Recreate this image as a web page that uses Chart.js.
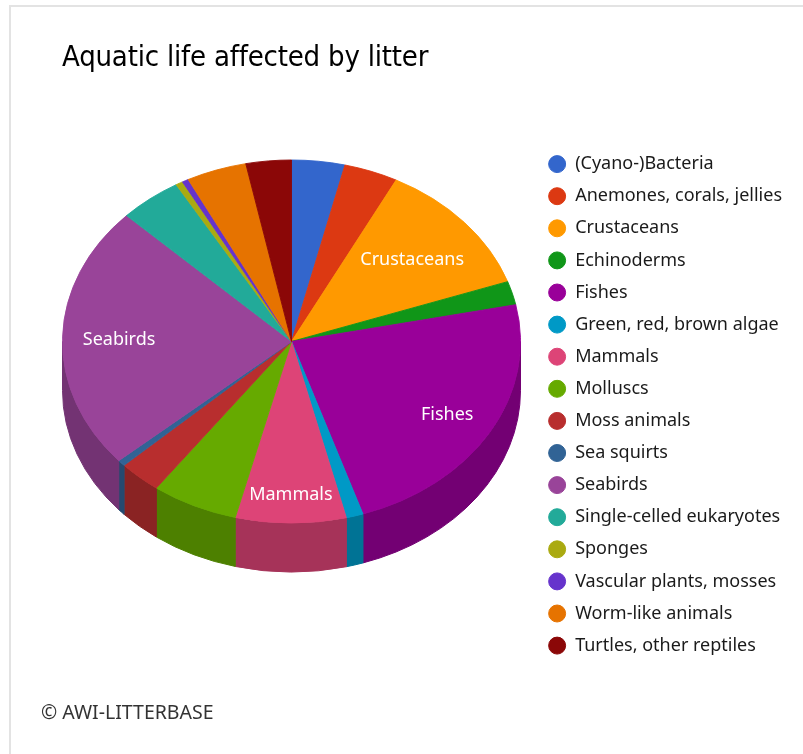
<!DOCTYPE html>
<html lang="en">
<head>
    <meta charset="UTF-8">
    <title>Aquatic life affected by litter</title>
    <script src="https://cdn.jsdelivr.net/npm/chart.js"></script>
    <style>

body {
    margin: 0;
    background: #fff;
    font-family: 'Noto Sans', sans-serif;
}

.wrap {
    position: relative;
    width: 803px;
    height: 754px;
    overflow: hidden;
}

.frame {
    position: absolute;
    left: 9px;
    top: 5px;
    width: 900px;
    height: 900px;
    border-left: 2px solid #e3e3e3;
    border-top: 2px solid #e3e3e3;
}

h1 {
    position: absolute;
    left: 62px;
    top: 42px;
    margin: 0;
    font: 500 29px/1 'Liberation Sans Narrow', 'DejaVu Sans Condensed', sans-serif;
    color: #000;
    white-space: nowrap;
    letter-spacing: -0.2px;
}

.credit {
    position: absolute;
    left: 41px;
    top: 702px;
    font-size: 19.5px;
    line-height: 1;
    color: #333;
}

canvas {
    position: absolute;
    left: 0;
    top: 0;
}

    </style>
</head>
<body>
    <div class="wrap">
        <div class="frame"></div>
        <canvas id="pieChart" width="803" height="754"></canvas>
        <h1>Aquatic life affected by litter</h1>
        <div class="credit">© AWI-LITTERBASE</div>
    </div>
    <script>
        // groups, share of the pie (%) and slice colours
        const groups = [
            '(Cyano-)Bacteria', 'Anemones, corals, jellies', 'Crustaceans', 'Echinoderms',
            'Fishes', 'Green, red, brown algae', 'Mammals', 'Molluscs',
            'Moss animals', 'Sea squirts', 'Seabirds', 'Single-celled eukaryotes',
            'Sponges', 'Vascular plants, mosses', 'Worm-like animals', 'Turtles, other reptiles'
        ];
        const shares = [3.75, 3.8, 12.1, 2.1, 23.2, 1.2, 7.8, 6.1, 3.0, 0.55, 23.6, 4.4, 0.5, 0.45, 4.25, 3.2];
        const colors = [
            '#3366cc', '#dc3912', '#ff9900', '#109618', '#990099', '#0099c6', '#dd4477', '#66aa00',
            '#b82e2e', '#316395', '#994499', '#22aa99', '#aaaa11', '#6633cc', '#e67300', '#8b0707'
        ];

        const tilt = 0.7926;      // ellipse height / width
        const depth = 49;         // thickness of the pie rim
        const faceY = 341.5;      // where the top face sits on the page
        const labelMin = 0.07;    // smaller slices get no name inside

        function shade(hex, f) {
            const n = parseInt(hex.slice(1), 16);
            const r = Math.round(((n >> 16) & 255) * f);
            const g = Math.round(((n >> 8) & 255) * f);
            const b = Math.round((n & 255) * f);
            return `rgb(${r}, ${g}, ${b})`;
        }

        // squash the pie into an ellipse and give it a rim
        const pie3d = {
            id: 'pie3d',
            beforeDatasetsDraw(chart) {
                const arcs = chart.getDatasetMeta(0).data;
                const ctx = chart.ctx;
                const cx = arcs[0].x, cy = arcs[0].y;
                const rx = arcs[0].outerRadius, ry = rx * tilt;

                ctx.save();
                arcs.forEach((arc, i) => {
                    const s = Math.max(arc.startAngle, 0);
                    const e = Math.min(arc.endAngle, Math.PI);
                    if (e <= s) return;
                    ctx.beginPath();
                    ctx.ellipse(cx, faceY, rx, ry, 0, s, e);
                    ctx.ellipse(cx, faceY + depth, rx, ry, 0, e, s, true);
                    ctx.closePath();
                    ctx.fillStyle = shade(colors[i], 0.75);
                    ctx.strokeStyle = ctx.fillStyle;
                    ctx.lineWidth = 1;
                    ctx.fill();
                    ctx.stroke();
                });
                ctx.restore();

                ctx.save();
                ctx.translate(cx, faceY);
                ctx.scale(1, tilt);
                ctx.translate(-cx, -cy);
            },
            afterDatasetsDraw(chart) {
                const ctx = chart.ctx;
                ctx.restore();

                const arcs = chart.getDatasetMeta(0).data;
                const cx = arcs[0].x;
                const rx = arcs[0].outerRadius, ry = rx * tilt;
                const total = shares.reduce((a, b) => a + b, 0);

                ctx.save();
                ctx.font = '18px "Noto Sans"';
                ctx.fillStyle = '#fff';
                ctx.textAlign = 'center';
                ctx.textBaseline = 'middle';
                arcs.forEach((arc, i) => {
                    if (shares[i] / total < labelMin) return;
                    const mid = (arc.startAngle + arc.endAngle) / 2;
                    const w = ctx.measureText(groups[i]).width / 2;
                    const h = 11;
                    // push the label out until its box nearly touches the edge
                    let lo = 0, hi = 1, px = cx, py = faceY;
                    for (let k = 0; k < 30; k++) {
                        const t = (lo + hi) / 2;
                        const x = cx + t * rx * Math.cos(mid);
                        const y = faceY + t * ry * Math.sin(mid);
                        let m = 0;
                        [[-w, -h], [w, -h], [-w, h], [w, h]].forEach(([dx, dy]) => {
                            const u = (x + dx - cx) / rx, v = (y + dy - faceY) / ry;
                            m = Math.max(m, Math.sqrt(u * u + v * v));
                        });
                        if (m > 0.915) { hi = t; } else { lo = t; px = x; py = y; }
                    }
                    ctx.fillText(groups[i], px, py + 2);
                });
                ctx.restore();
            }
        };

        const pieChart = new Chart(document.getElementById('pieChart'), {
            type: 'pie',
            data: {
                labels: groups,
                datasets: [{
                    data: shares,
                    backgroundColor: colors,
                    borderColor: colors,
                    borderWidth: 1,
                    radius: 229,
                    hoverOffset: 0,
                    clip: false
                }]
            },
            options: {
                responsive: false,
                animation: false,
                devicePixelRatio: 1,
                layout: {
                    padding: { top: 141, bottom: 54, left: 49, right: 11 }
                },
                plugins: {
                    legend: {
                        position: 'right',
                        align: 'start',
                        labels: {
                            usePointStyle: true,
                            pointStyle: 'circle',
                            boxWidth: 18,
                            boxHeight: 12,
                            padding: 14.1,
                            color: '#1a1a1a',
                            font: { family: 'Noto Sans', size: 18 }
                        }
                    },
                    tooltip: { enabled: false }
                }
            },
            plugins: [pie3d]
        });
    </script>
</body>
</html>
